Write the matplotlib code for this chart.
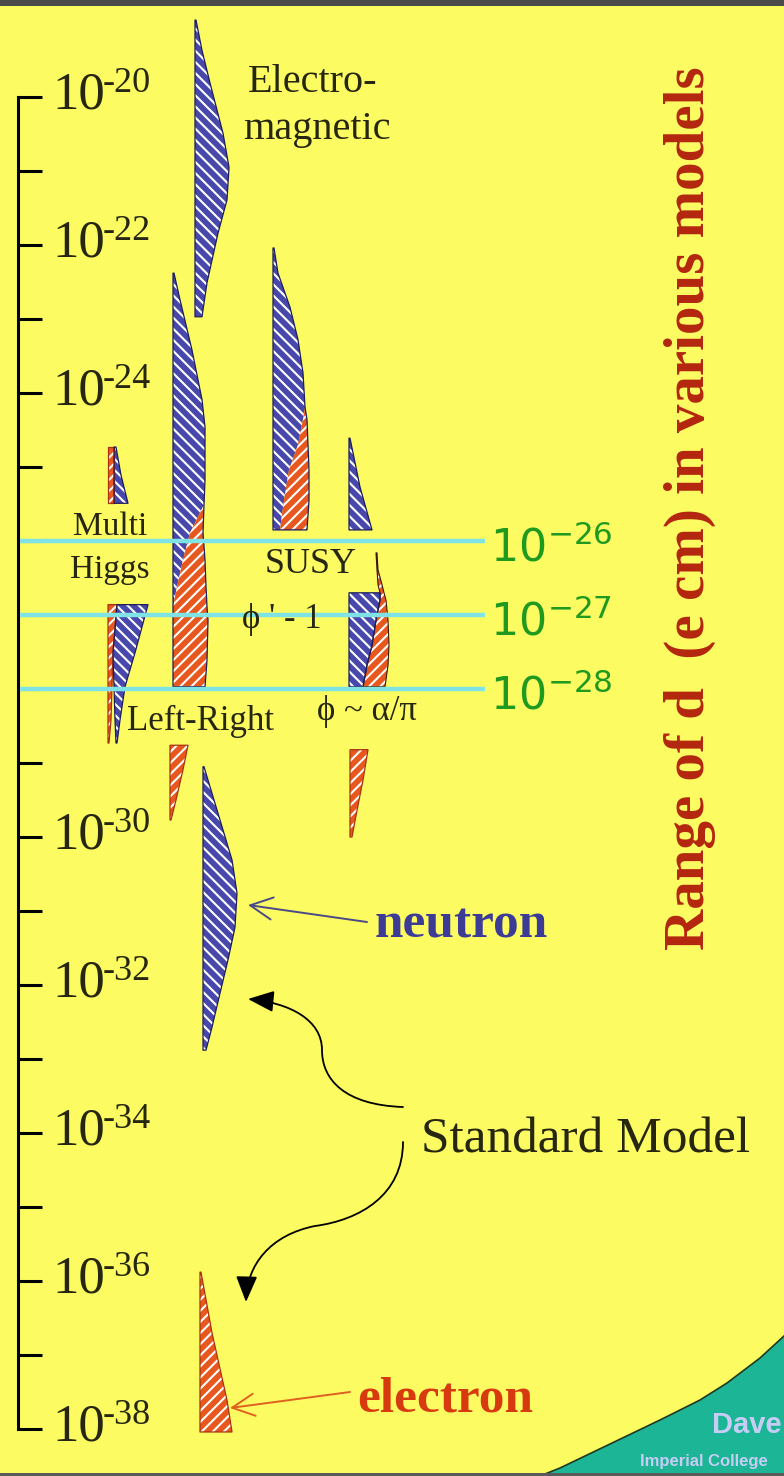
import numpy as np
import matplotlib
matplotlib.use("Agg")
import matplotlib.pyplot as plt
from matplotlib.path import Path
from matplotlib.patches import FancyArrowPatch, Polygon, Rectangle
from matplotlib.lines import Line2D
from matplotlib.ticker import NullLocator
import matplotlib.transforms as mtransforms

# ---------------- data (log10 of d in e cm) ----------------
decades = list(range(-38, -19))                       # a tick at every decade
labelled_decades = [-20, -22, -24, -30, -32, -34, -36, -38]
limit_decades = [-26, -27, -28]                        # experimental limits

# Electromagnetic (blue)
em_logd = [-18.96, -19.37, -19.81, -20.49, -20.95, -21.39, -21.84, -22.51, -22.97]
em_w = [1, 7, 15, 28, 34, 32, 23, 12, 7]

# Multi Higgs: small upper piece (red strip + blue wedge)
mh_top_logd = [-24.73, -25.11, -25.49]
mh_top_red = [6, 6, 6]
mh_top_blue = [8, 13, 20]
# Multi Higgs: lower piece
mh_low_logd = [-26.86, -27.51, -27.97, -28.42, -28.73]
mh_low_red = [9, 5, 4, 3, 1]
mh_low_blue_l = [9, 5, 6, 7, 8]
mh_low_blue_r = [40, 27, 17, 12, 9]

# Left-Right (blue turning into red)
lr_logd = [-22.38, -22.74, -23.42, -24.09, -24.46, -25.18, -25.51, -25.89,
           -26.26, -26.62, -26.89, -27.07, -27.61, -27.97]
lr_split = [1, 7, 19, 29, 32, 32, 31, 17, 10, 4, 0, 0, 0, 0]
lr_right = [1, 7, 19, 29, 32, 32, 31, 30, 32, 33, 34, 35, 34, 32]
lr_tail_logd = [-28.76, -29.09, -29.50, -29.77]
lr_tail_w = [18, 13, 6, 1]

# SUSY, phi ~ 1
susy1_logd = [-22.04, -22.38, -22.84, -23.28, -23.73, -24.19, -24.36, -24.70,
              -25.04, -25.45, -25.85]
susy1_split = [1, 5, 17, 25, 30, 32, 30, 25, 16, 11, 7]
susy1_right = [1, 5, 17, 25, 30, 32, 34, 35, 36, 36, 34]

# SUSY, phi ~ alpha/pi
susy2_top_logd = [-24.61, -25.27, -25.85]
susy2_top_w = [1, 11, 23]
susy2_blue_logd = [-26.70, -26.80, -27.07, -27.41, -27.68, -27.97]
susy2_blue_w = [31, 31, 27, 23, 18, 14]
susy2_red_logd = [-26.16, -26.39, -26.59, -26.70, -26.80, -27.07, -27.41, -27.68, -27.97]
susy2_red_l = [27, 28, 29, 31, 31, 27, 23, 18, 14]
susy2_red_r = [28, 29, 33, 35, 37, 39, 40, 39, 36]
susy2_tail_logd = [-28.82, -29.23, -29.64, -30.00]
susy2_tail_w = [18, 13, 7, 2]

# Standard Model
neutron_logd = [-29.05, -29.41, -29.86, -30.31, -30.76, -31.22, -31.66, -32.11, -32.57, -32.88]
neutron_w = [1, 9, 19, 29, 34, 32, 25, 17, 9, 3]
electron_logd = [-35.88, -36.70, -37.61, -38.04]
electron_w = [1, 12, 27, 32]

# ---------------- style / layout ----------------
W, H = 784, 1476
YELLOW = "#fcfc62"
BLUE = "#4848ac"
RED = "#e8581e"
NAVY = "#1c1c5c"
DRED = "#a83210"
DARK = "#262611"
GREEN = "#1f9a1f"
CYAN = "#7fe3e6"
TITLE = "#b3260f"
TEAL = "#1cb595"
SERIF = ['Liberation Serif', 'DejaVu Serif']

plt.rcParams['font.family'] = SERIF
plt.rcParams['hatch.linewidth'] = 1.5
plt.rcParams['hatch.color'] = 'white'

fig = plt.figure(figsize=(W / 100, H / 100), dpi=100)
fig.patch.set_facecolor(YELLOW)
ax = fig.add_axes([0, 0, 1, 1])
ax.set_facecolor('none')
ax.set_yscale('log')
ax.set_xlim(0, W)
ax.set_ylim(10 ** -38.635, 10 ** -18.689)

# pixel transform (x right, y down) for layout elements
T = mtransforms.Affine2D().scale(1 / W, -1 / H).translate(0, 1) + fig.transFigure


def P(x, y):
    return (x / W, 1 - y / H)


BL_HATCH = '\\\\\\'
RD_HATCH = '///'


def band(x0, logd, left, right, face, hatch, edge=None, lw=0.9):
    y = np.power(10.0, np.asarray(logd, float))
    xl = x0 + np.asarray(left, float)
    xr = x0 + np.asarray(right, float)
    ax.fill_betweenx(y, xl, xr, facecolor=face, edgecolor='white', hatch=hatch,
                     linewidth=0, zorder=2)
    if edge is not None:
        ax.fill_betweenx(y, xl, xr, facecolor='none', edgecolor=edge,
                         linewidth=lw, zorder=3)


def zeros(a):
    return [0] * len(a)


# Electromagnetic
band(195, em_logd, zeros(em_logd), em_w, BLUE, BL_HATCH, NAVY)
# Multi Higgs
band(108, mh_top_logd, zeros(mh_top_logd), mh_top_red, RED, RD_HATCH, DRED)
band(108, mh_top_logd, mh_top_red, mh_top_blue, BLUE, BL_HATCH, NAVY)
band(108, mh_low_logd, zeros(mh_low_logd), mh_low_red, RED, RD_HATCH, DRED)
band(108, mh_low_logd, mh_low_blue_l, mh_low_blue_r, BLUE, BL_HATCH, NAVY)
# Left-Right
band(173, lr_logd, zeros(lr_logd), lr_split, BLUE, BL_HATCH)
band(173, lr_logd, lr_split, lr_right, RED, RD_HATCH)
band(173, lr_logd, zeros(lr_logd), lr_right, 'none', None, NAVY)
band(170, lr_tail_logd, zeros(lr_tail_logd), lr_tail_w, RED, RD_HATCH, DRED)
# SUSY phi ~ 1
band(273, susy1_logd, zeros(susy1_logd), susy1_split, BLUE, BL_HATCH)
band(273, susy1_logd, susy1_split, susy1_right, RED, RD_HATCH)
band(273, susy1_logd, zeros(susy1_logd), susy1_right, 'none', None, NAVY)
# SUSY phi ~ alpha/pi
band(349, susy2_top_logd, zeros(susy2_top_logd), susy2_top_w, BLUE, BL_HATCH, NAVY)
band(349, susy2_red_logd, susy2_red_l, susy2_red_r, RED, RD_HATCH, "#3a1a10", 0.8)
band(349, susy2_blue_logd, zeros(susy2_blue_logd), susy2_blue_w, BLUE, BL_HATCH, NAVY)
band(350, susy2_tail_logd, zeros(susy2_tail_logd), susy2_tail_w, RED, RD_HATCH, DRED)
# Standard Model
band(203, neutron_logd, zeros(neutron_logd), neutron_w, BLUE, BL_HATCH, NAVY)
band(200, electron_logd, zeros(electron_logd), electron_w, RED, RD_HATCH, DRED)

# experimental limit lines
ax.hlines([10.0 ** k for k in limit_decades], 20, 485, colors=CYAN, linewidth=3.2, zorder=4)
for k in limit_decades:
    ax.annotate(r'$10^{%d}$' % k, xy=(490, 10.0 ** k), xytext=(0, -20 * 0.72),
                textcoords='offset points', ha='left', va='baseline',
                fontsize=32, color=GREEN, math_fontfamily='dejavusans', zorder=6)

# y axis
for s in ['top', 'right', 'bottom']:
    ax.spines[s].set_visible(False)
ax.spines['left'].set_position(('data', 18))
ax.spines['left'].set_bounds(1e-38, 1e-20)
ax.spines['left'].set_linewidth(2.2)
ax.spines['left'].set_color('black')
ax.set_yticks([10.0 ** k for k in decades])
ax.yaxis.set_minor_locator(NullLocator())
ax.tick_params(axis='y', which='major', direction='in', length=17, width=2.2,
               color='black', labelleft=False)
ax.tick_params(axis='x', bottom=False, labelbottom=False)
for k in labelled_decades:
    ax.annotate('10', xy=(52, 10.0 ** k), xytext=(0, -11 * 0.72),
                textcoords='offset points', ha='left', va='baseline',
                fontsize=38, color=DARK, zorder=6)
    ax.annotate('%d' % k, xy=(52, 10.0 ** k), xytext=(51 * 0.72, 5 * 0.72),
                textcoords='offset points', ha='left', va='baseline',
                fontsize=26, color=DARK, zorder=6)

# ---------------- decorations ----------------
fig.add_artist(Rectangle((0, 0), W, 6, transform=T, facecolor='#4a4a4a', edgecolor='none', zorder=5))
fig.add_artist(Rectangle((0, H - 3), W, 3, transform=T, facecolor='#5a5a5a', edgecolor='none', zorder=5))

corner = [(540, 1476), (560, 1468), (610, 1444), (660, 1420), (700, 1400),
          (727, 1383), (760, 1358), (784, 1336)]
fig.add_artist(Polygon(corner + [(784, 1476)], closed=True, transform=T,
                       facecolor=TEAL, edgecolor='none', zorder=1))
cx, cy = zip(*corner)
fig.add_artist(Line2D(cx, cy, transform=T, color='#203a20', linewidth=1.2, zorder=2))
fig.text(*P(712, 1425), 'Dave', ha='left', va='center', fontsize=21,
         fontweight='bold', color='#c5cdf5',
         family=['Liberation Sans', 'DejaVu Sans'], zorder=6)
fig.text(*P(640, 1466), 'Imperial College', ha='left', va='baseline', fontsize=12,
         fontweight='bold', color='#c5cdf5',
         family=['Liberation Sans', 'DejaVu Sans'], zorder=6)

# labels
fig.text(*P(313, 83), 'Electro-', ha='center', va='center', fontsize=29, color=DARK)
fig.text(*P(317, 130), 'magnetic', ha='center', va='center', fontsize=29, color=DARK)
fig.text(*P(110, 527), 'Multi', ha='center', va='center', fontsize=24, color=DARK)
fig.text(*P(110, 570), 'Higgs', ha='center', va='center', fontsize=24, color=DARK)
fig.text(*P(311, 565), 'SUSY', ha='center', va='center', fontsize=26, color=DARK)
fig.text(*P(242, 620), "\u03d5 ' - 1", ha='left', va='center', fontsize=25, color=DARK,
         family=SERIF, zorder=6)
fig.text(*P(127, 721), 'Left-Right', ha='left', va='center', fontsize=25, color=DARK)
fig.text(*P(317, 712), '\u03d5 ~ \u03b1/\u03c0', ha='left', va='center', fontsize=25,
         color=DARK, family=SERIF)
fig.text(*P(421, 1140), 'Standard Model', ha='left', va='center', fontsize=37, color=DARK)
fig.text(*P(375, 925), 'neutron', ha='left', va='center', fontsize=37,
         fontweight='bold', color='#3c3c96')
fig.text(*P(357, 1400), 'electron', ha='left', va='center', fontsize=37,
         fontweight='bold', color='#d83a10')
fig.text(*P(690, 508), 'Range of d  (e cm) in various models', rotation=90,
         ha='center', va='center', fontsize=41, fontweight='bold', color=TITLE)

# pointer arrows
ax.annotate('', xy=P(248, 905), xycoords='figure fraction', xytext=P(367, 922),
            textcoords='figure fraction',
            arrowprops=dict(arrowstyle='->,head_length=0.8,head_width=0.4',
                            color='#4a4a88', lw=1.4, shrinkA=0, shrinkB=0,
                            mutation_scale=20))
ax.annotate('', xy=P(230, 1408), xycoords='figure fraction', xytext=P(350, 1392),
            textcoords='figure fraction',
            arrowprops=dict(arrowstyle='->,head_length=0.8,head_width=0.4',
                            color='#e06020', lw=1.4, shrinkA=0, shrinkB=0,
                            mutation_scale=20))

C4 = Path.CURVE4
up = Path([(403, 1107), (345, 1105), (322, 1080), (322, 1050),
           (322, 1020), (290, 1003), (248, 999)],
          [Path.MOVETO, C4, C4, C4, C4, C4, C4])
down = Path([(403, 1142), (403, 1195), (360, 1220), (315, 1226),
             (270, 1235), (247, 1265), (246, 1302)],
            [Path.MOVETO, C4, C4, C4, C4, C4, C4])
for pth in (up, down):
    fig.add_artist(FancyArrowPatch(path=pth, transform=T,
                                   arrowstyle='-|>,head_length=0.8,head_width=0.33',
                                   mutation_scale=20, color='black', lw=1.3, zorder=6))

fig.savefig('out.png', dpi=100, facecolor=fig.get_facecolor())
